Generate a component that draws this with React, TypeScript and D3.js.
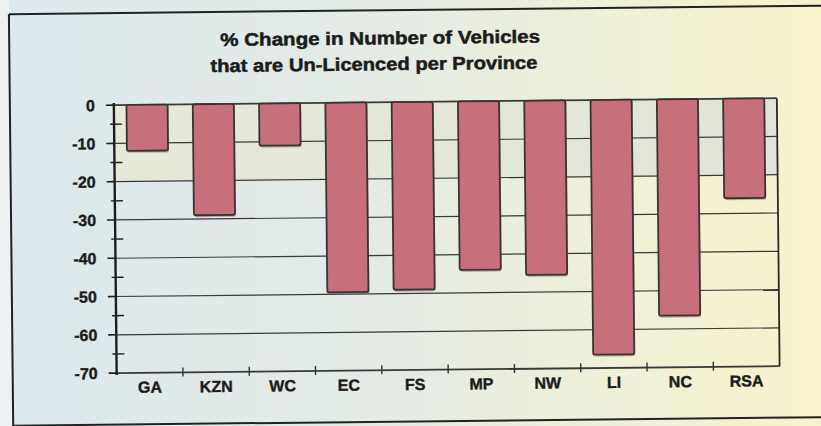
import React from "react";
import * as d3 from "d3";

const categories = ["GA", "KZN", "WC", "EC", "FS", "MP", "NW", "LI", "NC", "RSA"];
const values = [-12, -29, -11, -49.5, -49, -44, -45.5, -66.5, -56.5, -26];
const yTicks = [0, -10, -20, -30, -40, -50, -60, -70];
const yMinorTicks = [-5, -15, -25, -35, -45, -55, -65];
const titleLines = ["% Change in Number of Vehicles", "that are Un-Licenced per Province"];

const W = 821;
const H = 426;
const plotLeft = 115;
const plotRight = 778;
const plotTop = 102;
const plotBottom = 370;

export default function App() {
  const x = d3
    .scaleBand<string>()
    .domain(categories)
    .range([plotLeft, plotRight])
    .paddingInner(0.38)
    .paddingOuter(0.19);
  const y = d3.scaleLinear().domain([-70, 0]).range([plotBottom, plotTop]);
  const step = x.step();
  const bw = x.bandwidth();
  const boundaries = categories.slice(0, -1).map((c) => (x(c) as number) + bw + (step - bw) / 2);
  const font = "'Liberation Sans', Arial, sans-serif";
  const ink = "#1c1c1c";

  return (
    <svg
      width={W}
      height={H}
      viewBox={`0 0 ${W} ${H}`}
      style={{ position: "absolute", left: 0, top: 0, display: "block" }}
    >
      <defs>
        <linearGradient id="bg" x1="0" y1="0" x2="1" y2="0">
          <stop offset="0%" stopColor="#dce8ee" />
          <stop offset="45%" stopColor="#e3ebe4" />
          <stop offset="75%" stopColor="#eff0d8" />
          <stop offset="100%" stopColor="#f8f3cb" />
        </linearGradient>
        <linearGradient id="band" x1="0" y1="0" x2="1" y2="0">
          <stop offset="0%" stopColor="#e6e9d8" />
          <stop offset="100%" stopColor="#e0e5d8" />
        </linearGradient>
      </defs>
      <rect x={0} y={0} width={W} height={H} fill="url(#bg)" />
      <g transform="rotate(-0.6, 410, 213)">
        <rect x={-20} y={-20} width={31} height={H + 40} fill="#edf1f1" />
        {/* frame */}
        <line x1={11} y1={10} x2={W + 20} y2={10} stroke="#222" strokeWidth={2} />
        <line x1={11} y1={10} x2={11} y2={H + 20} stroke="#222" strokeWidth={2} />
        <line x1={11} y1={421.5} x2={W + 20} y2={421.5} stroke="#222" strokeWidth={2} />

        {/* title */}
        {titleLines.map((t, i) => (
          <text
            key={"title" + i}
            x={i === 0 ? 222 : 212}
            y={i === 0 ? 44 : 70}
            fontFamily={font}
            fontWeight="bold"
            fontSize={18}
            fill={ink}
            stroke={ink}
            strokeWidth={0.5}
            textLength={i === 0 ? 320 : 327}
            lengthAdjust="spacingAndGlyphs"
          >
            {t}
          </text>
        ))}

        {/* upper plot band */}
        <rect
          x={plotLeft}
          y={y(0)}
          width={plotRight - plotLeft}
          height={y(-20) - y(0)}
          fill="url(#band)"
        />

        {/* gridlines */}
        {yTicks.map((t) => (
          <line
            key={"g" + t}
            x1={plotLeft}
            x2={plotRight}
            y1={y(t)}
            y2={y(t)}
            stroke="#3a3a3a"
            strokeWidth={t === -70 || t === 0 ? 1.8 : 1.2}
          />
        ))}
        {/* right border */}
        <line x1={plotRight} x2={plotRight} y1={y(0)} y2={y(-70)} stroke="#2a2a2a" strokeWidth={1.8} />

        {/* bars */}
        {categories.map((c, i) => {
          const top = y(0);
          const bottom = y(values[i]);
          return (
            <g key={c}>
              <rect
                x={(x(c) as number) + 1}
                y={top + 1}
                width={bw}
                height={bottom - top + 1}
                rx={2}
                fill="#7c5a5e"
                opacity={0.45}
              />
              <rect
                x={x(c) as number}
                y={top}
                width={bw}
                height={bottom - top}
                rx={2}
                fill="#c86f7c"
                stroke="#3b3333"
                strokeWidth={1.8}
              />
            </g>
          );
        })}

        {/* y axis */}
        <line x1={plotLeft} x2={plotLeft} y1={y(0) - 2} y2={y(-70) + 2} stroke="#1e1e1e" strokeWidth={2.4} />
        {yTicks.map((t) => (
          <line key={"t" + t} x1={plotLeft - 8} x2={plotLeft} y1={y(t)} y2={y(t)} stroke="#1e1e1e" strokeWidth={1.6} />
        ))}
        {yMinorTicks.map((t) => (
          <line
            key={"m" + t}
            x1={plotLeft - 4}
            x2={plotLeft + 8}
            y1={y(t)}
            y2={y(t)}
            stroke="#1e1e1e"
            strokeWidth={1.4}
          />
        ))}
        {yTicks.map((t) => (
          <text
            key={"l" + t}
            x={96}
            y={y(t)}
            dy="0.36em"
            textAnchor="end"
            fontFamily={font}
            fontWeight="bold"
            fontSize={16}
            fill={ink}
            stroke={ink}
            strokeWidth={0.4}
          >
            {t}
          </text>
        ))}

        {/* x axis ticks */}
        {boundaries.map((b, i) => (
          <line key={"xb" + i} x1={b} x2={b} y1={y(-70) - 5} y2={y(-70) + 4} stroke="#333" strokeWidth={1.4} />
        ))}
        {categories.map((c) => (
          <text
            key={"x" + c}
            x={(x(c) as number) + bw / 2}
            y={390}
            textAnchor="middle"
            fontFamily={font}
            fontWeight="bold"
            fontSize={16}
            fill={ink}
            stroke={ink}
            strokeWidth={0.4}
          >
            {c}
          </text>
        ))}
      </g>
    </svg>
  );
}
